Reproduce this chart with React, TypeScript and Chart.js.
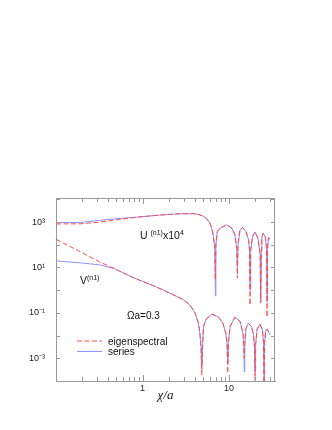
import React, { useEffect, useRef } from 'react';
import { Chart, registerables } from 'chart.js';

Chart.register(...registerables);

// U^(n1) x 10^4
const uChi = [0.1, 0.19, 0.32, 0.55, 0.94, 1.59, 2.7, 4.0, 4.6, 5.27, 5.57, 6.0, 6.3, 6.56, 6.85, 6.95, 7.05, 7.32, 7.87, 9.4, 10.8, 11.7, 12.3, 12.5, 12.7, 13.4, 14.4, 15.7, 16.8, 17.25, 17.5, 17.8, 18.7, 20.0, 21.6, 22.9, 23.2, 23.6, 24.0, 24.9, 26.3, 27.2, 27.5, 27.8, 28.6, 29.7];
const uSeries = [960, 960, 1200, 1450, 1700, 2040, 2330, 2330, 2100, 1660, 1320, 910, 540, 275, 80, 0.56, 100, 380, 537, 760, 537, 275, 69, 5, 100, 457, 575, 380, 166, 60, 1.0, 57, 229, 363, 195, 37, 0.28, 50, 218, 324, 224, 60, 0.3, 60, 205, 180];
const uEigen = [830, 840, 1000, 1320, 1700, 2040, 2330, 2330, 2100, 1660, 1320, 910, 540, 275, 80, 2.8, 100, 380, 537, 760, 537, 275, 69, 3.4, 100, 457, 575, 380, 166, 60, 0.22, 57, 229, 363, 195, 37, 0.28, 50, 218, 324, 224, 60, 0.065, 60, 205, 180];

// V^(n1)
const vChi = [0.1, 0.19, 0.32, 0.48, 0.78, 1.32, 1.9, 2.94, 3.54, 4.05, 4.42, 4.6, 4.75, 4.84, 4.95, 5.07, 5.42, 6.3, 7.46, 8.5, 9.2, 9.5, 9.66, 9.85, 10.3, 11.7, 13.4, 14.5, 14.8, 15.0, 15.2, 15.7, 16.7, 18.2, 19.2, 19.7, 20.0, 20.3, 21.1, 22.8, 24.3, 25.0, 25.4, 25.8, 26.6, 27.7, 29.7];
const vSeries = [19.5, 16, 13, 8.7, 3.6, 1.6, 0.87, 0.39, 0.22, 0.10, 0.036, 0.013, 0.003, 4.3e-4, 0.004, 0.025, 0.052, 0.087, 0.069, 0.035, 0.0126, 0.004, 6.3e-4, 0.005, 0.025, 0.065, 0.042, 0.0126, 0.004, 2.5e-4, 0.004, 0.021, 0.035, 0.025, 0.0107, 0.003, 2.5e-4, 0.004, 0.019, 0.032, 0.018, 0.005, 8e-5, 0.005, 0.0166, 0.019, 0.0107];
const vEigen = [174, 50, 17.5, 8.7, 3.6, 1.6, 0.87, 0.39, 0.22, 0.10, 0.036, 0.013, 0.003, 1.8e-4, 0.004, 0.025, 0.052, 0.087, 0.069, 0.035, 0.0126, 0.004, 2.2e-4, 0.005, 0.025, 0.065, 0.042, 0.0126, 0.004, 1e-3, 0.004, 0.021, 0.035, 0.025, 0.0107, 0.003, 9e-5, 0.004, 0.019, 0.032, 0.018, 0.005, 8e-5, 0.005, 0.0166, 0.019, 0.0107];

const xTickValues = [0.2, 0.3, 0.4, 0.5, 0.6, 0.7, 0.8, 0.9, 1, 2, 3, 4, 5, 6, 7, 8, 9, 10, 20, 30];
const xMajor = [1, 10];
const yTickExponents = [-4, -3, -2, -1, 0, 1, 2, 3, 4];
const yLabelExponents = [-3, -1, 1, 3];
const supDigits: Record<string, string> = { '-': '\u207B', '0': '\u2070', '1': '\u00B9', '2': '\u00B2', '3': '\u00B3', '4': '\u2074' };

const seriesLabel = 'series';
const eigenLabel = 'eigenspectral';
const RED = 'rgb(255,75,75)';
const BLUE = 'rgb(145,145,255)';
const AXIS = '#999';
const FONT = "'Liberation Sans', Arial, Helvetica, sans-serif";

function pts(xs: number[], ys: number[]) {
  return xs.map((x, i) => ({ x, y: ys[i] }));
}

function drawRich(ctx: CanvasRenderingContext2D, parts: { t: string; sup?: boolean }[], x: number, y: number, size: number, supSize: number) {
  let cx = x;
  for (const p of parts) {
    ctx.font = `${p.sup ? supSize : size}px ${FONT}`;
    const yy = p.sup ? y - size * 0.42 : y;
    ctx.fillText(p.t, cx, yy);
    cx += ctx.measureText(p.t).width;
  }
}

const decorPlugin = {
  id: 'decor',
  afterDatasetsDraw(chart: any) {
    const { ctx, chartArea: ca, scales } = chart;
    const xs = scales.x;
    const ys = scales.y;
    ctx.save();
    ctx.strokeStyle = AXIS;
    ctx.lineWidth = 1;
    // frame top/right
    ctx.beginPath();
    ctx.moveTo(ca.left, ca.top + 0.5);
    ctx.lineTo(ca.right, ca.top + 0.5);
    ctx.moveTo(ca.right - 0.5, ca.top);
    ctx.lineTo(ca.right - 0.5, ca.bottom);
    ctx.stroke();
    // x ticks inward
    ctx.beginPath();
    for (const v of xTickValues) {
      const px = Math.round(xs.getPixelForValue(v)) + 0.5;
      const len = xMajor.includes(v) ? 6 : 4;
      ctx.moveTo(px, ca.bottom);
      ctx.lineTo(px, ca.bottom - len);
      ctx.moveTo(px, ca.top);
      ctx.lineTo(px, ca.top + len);
    }
    // y ticks inward
    for (const e of yTickExponents) {
      const py = Math.round(ys.getPixelForValue(Math.pow(10, e))) + 0.5;
      if (py < ca.top || py > ca.bottom) continue;
      const len = 4;
      ctx.moveTo(ca.left, py);
      ctx.lineTo(ca.left + len, py);
      ctx.moveTo(ca.right, py);
      ctx.lineTo(ca.right - len, py);
    }
    ctx.stroke();

    // legend
    const lx0 = 77, lx1 = 102;
    ctx.lineWidth = 1;
    ctx.strokeStyle = RED;
    ctx.setLineDash([5, 2.5]);
    ctx.beginPath();
    ctx.moveTo(lx0, 341);
    ctx.lineTo(lx1, 341);
    ctx.stroke();
    ctx.setLineDash([]);
    ctx.strokeStyle = BLUE;
    ctx.beginPath();
    ctx.moveTo(lx0, 351.5);
    ctx.lineTo(lx1, 351.5);
    ctx.stroke();

    ctx.fillStyle = '#111';
    ctx.textBaseline = 'alphabetic';
    ctx.textAlign = 'left';
    ctx.font = `10px ${FONT}`;
    ctx.fillText(eigenLabel, 108, 344.5);
    ctx.fillText(seriesLabel, 108, 355);

    // annotations
    drawRich(ctx, [{ t: 'U ' }, { t: '(n1)', sup: true }, { t: 'x10' }, { t: '4', sup: true }], 140, 239, 10.5, 7);
    drawRich(ctx, [{ t: 'V' }, { t: '(n1)', sup: true }], 80, 284, 10.5, 7);
    drawRich(ctx, [{ t: '\u03A9a=0.3' }], 127, 318.5, 10, 7);

    // x-axis title
    ctx.font = `italic 13px 'Liberation Serif', 'Times New Roman', serif`;
    ctx.textAlign = 'center';
    ctx.fillText('\u03C7/a', (ca.left + ca.right) / 2, 399);
    ctx.restore();
  },
};

export default function App() {
  const ref = useRef<HTMLCanvasElement>(null);
  useEffect(() => {
    if (!ref.current) return;
    const chart = new Chart(ref.current, {
      type: 'line',
      data: {
        datasets: [
          { label: eigenLabel, data: pts(uChi, uEigen), borderColor: RED, borderWidth: 1, borderDash: [5, 2.5], pointRadius: 0, fill: false, tension: 0 },
          { label: eigenLabel, data: pts(vChi, vEigen), borderColor: RED, borderWidth: 1, borderDash: [5, 2.5], pointRadius: 0, fill: false, tension: 0 },
          { label: seriesLabel, data: pts(uChi, uSeries), borderColor: BLUE, borderWidth: 1, pointRadius: 0, fill: false, tension: 0 },
          { label: seriesLabel, data: pts(vChi, vSeries), borderColor: BLUE, borderWidth: 1, pointRadius: 0, fill: false, tension: 0 },
        ],
      },
      options: {
        responsive: false,
        animation: false,
        events: [],
        layout: { padding: { top: 198, right: 57, left: 0, bottom: 0 } },
        plugins: { legend: { display: false }, tooltip: { enabled: false }, title: { display: false } },
        scales: {
          x: {
            type: 'logarithmic',
            position: 'bottom',
            min: 0.1,
            max: 34,
            grid: { display: false, drawTicks: false },
            border: { display: true, color: AXIS },
            afterBuildTicks: (s: any) => { s.ticks = xTickValues.map((v) => ({ value: v })); },
            afterFit: (s: any) => { s.height = 49; },
            ticks: {
              autoSkip: false,
              maxRotation: 0,
              padding: 2,
              color: '#222',
              font: { size: 9, family: FONT },
              callback: (v: any) => (xMajor.includes(Number(v)) ? String(v) : ''),
            },
          },
          y: {
            type: 'logarithmic',
            position: 'left',
            min: 1e-4,
            max: 11500,
            grid: { display: false, drawTicks: false },
            border: { display: true, color: AXIS },
            afterBuildTicks: (s: any) => { s.ticks = yTickExponents.map((e) => ({ value: Math.pow(10, e) })); },
            afterFit: (s: any) => { s.width = 56; },
            ticks: {
              autoSkip: false,
              padding: 11,
              color: '#222',
              font: { size: 9, family: FONT },
              callback: (v: any) => {
                const e = Math.round(Math.log10(Number(v)));
                if (!yLabelExponents.includes(e)) return '';
                return '10' + String(e).split('').map((c) => supDigits[c]).join('');
              },
            },
          },
        },
      },
      plugins: [decorPlugin],
    } as any);
    return () => chart.destroy();
  }, []);
  return (
    <div style={{ position: 'absolute', left: 0, top: 0, width: 332, height: 430, background: '#fff' }}>
      <canvas ref={ref} width={332} height={430} style={{ display: 'block', width: 332, height: 430 }} />
    </div>
  );
}
